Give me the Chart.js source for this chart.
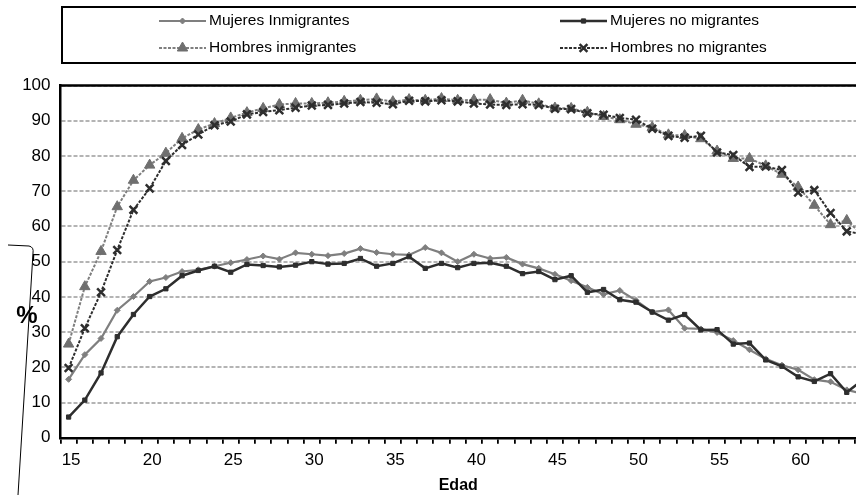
<!DOCTYPE html>
<html><head><meta charset="utf-8">
<script src="https://cdn.jsdelivr.net/npm/chart.js@4/dist/chart.umd.min.js"></script>
<style>html,body{margin:0;padding:0;background:#fff;overflow:hidden;width:856px;height:495px;}canvas{display:block;}</style>
</head><body>
<canvas id="c" width="864" height="495"></canvas>
<script>
const ages = [15,16,17,18,19,20,21,22,23,24,25,26,27,28,29,30,31,32,33,34,35,36,37,38,39,40,41,42,43,44,45,46,47,48,49,50,51,52,53,54,55,56,57,58,59,60,61,62,63,64];
const mujeresInmigrantes = [16.6,23.6,28.2,36.2,40.1,44.4,45.5,47.2,47.7,48.7,49.7,50.6,51.6,50.7,52.5,52.1,51.7,52.3,53.7,52.6,52.1,51.9,54.0,52.5,50.0,52.1,50.9,51.2,49.3,48.1,46.4,44.6,42.7,40.7,41.8,39.0,35.7,36.3,31.1,30.9,29.9,27.6,25.0,22.4,20.6,19.3,16.5,15.9,13.6,12.5];
const mujeresNoMigrantes = [5.9,10.7,18.4,28.7,35.0,40.1,42.3,46.0,47.5,48.7,47.0,49.2,48.9,48.5,49.0,50.0,49.3,49.5,50.9,48.7,49.5,51.4,48.1,49.5,48.3,49.5,49.7,48.7,46.6,47.2,44.9,46.0,41.3,42.1,39.2,38.5,35.7,33.4,35.0,30.6,30.7,26.6,26.9,22.1,20.3,17.3,16.0,18.2,12.9,16.5];
const hombresInmigrantes = [26.6,42.9,52.9,65.6,73.1,77.4,80.8,85.0,87.5,89.2,90.8,92.3,93.5,94.6,94.9,94.9,95.1,95.5,95.8,96.2,95.4,96.0,95.8,96.3,95.8,95.9,96.0,95.0,95.8,94.8,93.6,93.5,92.4,91.2,90.3,89.0,88.1,86.0,85.8,84.9,81.4,79.3,79.3,77.2,74.8,71.2,66.0,60.5,61.7,57.5];
const hombresNoMigrantes = [19.8,31.1,41.3,53.3,64.7,70.8,78.6,83.1,86.1,88.7,89.8,91.8,92.5,93.0,93.7,94.3,94.5,94.9,95.3,95.1,94.7,95.7,95.5,95.8,95.5,94.9,94.6,94.5,94.7,94.5,93.4,93.3,92.1,91.7,90.8,90.3,87.7,85.7,85.2,85.7,81.0,80.3,76.9,77.0,76.0,69.6,70.3,63.8,58.6,57.8];
const xTickLabels = ['15','20','25','30','35','40','45','50','55','60'];
const yTicks = [0,10,20,30,40,50,60,70,80,90,100];

const FONT = "'Liberation Sans', Arial, sans-serif";
const GRAY = '#7f7f7f', DARK = '#2e2e2e';
const pts = arr => arr.map((v,i) => ({x: ages[i], y: v}));

const legendPos = [
  {x1:159, x2:206, tx:209, y:21},
  {x1:560, x2:607, tx:610, y:21},
  {x1:159, x2:206, tx:209, y:48},
  {x1:560, x2:607, tx:610, y:48}
];

const decor = {
  id: 'decor',
  afterDraw(chart) {
    const ctx = chart.ctx, a = chart.chartArea;
    ctx.save();
    ctx.strokeStyle = '#000'; ctx.lineWidth = 2.5;
    ctx.beginPath(); ctx.moveTo(a.left - 1, a.top); ctx.lineTo(a.right + 2, a.top); ctx.stroke();
    ctx.lineWidth = 2;
    ctx.strokeRect(62, 7, 820, 56);
    chart.data.datasets.forEach((ds) => {
      const p = legendPos[ds.legendIndex];
      ctx.save();
      ctx.strokeStyle = ds.borderColor; ctx.lineWidth = ds.borderWidth;
      ctx.setLineDash(ds.borderDash || []);
      ctx.beginPath(); ctx.moveTo(p.x1, p.y); ctx.lineTo(p.x2, p.y); ctx.stroke();
      ctx.setLineDash([]);
      ctx.fillStyle = ds.pointBackgroundColor; ctx.strokeStyle = ds.pointBorderColor;
      ctx.lineWidth = ds.pointBorderWidth;
      Chart.helpers.drawPoint(ctx, {pointStyle: ds.pointStyle, radius: ds.pointRadius, rotation: 0, borderWidth: ds.pointBorderWidth}, (p.x1 + p.x2) / 2, p.y);
      ctx.restore();
      ctx.fillStyle = '#000'; ctx.font = '15.5px ' + FONT;
      ctx.textBaseline = 'middle'; ctx.textAlign = 'left';
      ctx.fillText(ds.label, p.tx, p.y);
    });
    ctx.fillStyle = '#000'; ctx.font = 'bold 24px ' + FONT;
    ctx.textAlign = 'center'; ctx.textBaseline = 'middle';
    ctx.fillText('%', 27, 316);
    ctx.strokeStyle = '#000'; ctx.lineWidth = 1;
    ctx.beginPath();
    ctx.moveTo(8, 245); ctx.lineTo(29, 246);
    ctx.quadraticCurveTo(34, 247, 33, 253);
    ctx.lineTo(18, 495);
    ctx.stroke();
    ctx.restore();
  }
};

new Chart(document.getElementById('c'), {
  type: 'line',
  data: {
    datasets: [
      {label:'Mujeres no migrantes', legendIndex:1, order:0, data: pts(mujeresNoMigrantes), borderColor:DARK, borderWidth:2.5,
       pointStyle:'rect', pointRadius:3, pointBackgroundColor:DARK, pointBorderColor:DARK, pointBorderWidth:1},
      {label:'Hombres no migrantes', legendIndex:3, order:1, data: pts(hombresNoMigrantes), borderColor:DARK, borderWidth:2, borderDash:[3,1.5],
       pointStyle:'crossRot', pointRadius:5.5, pointBackgroundColor:DARK, pointBorderColor:DARK, pointBorderWidth:2.5},
      {label:'Mujeres Inmigrantes', legendIndex:0, order:2, data: pts(mujeresInmigrantes), borderColor:GRAY, borderWidth:2.2,
       pointStyle:'rectRot', pointRadius:3, pointBackgroundColor:GRAY, pointBorderColor:GRAY, pointBorderWidth:1},
      {label:'Hombres inmigrantes', legendIndex:2, order:3, data: pts(hombresInmigrantes), borderColor:GRAY, borderWidth:2, borderDash:[3,1.5],
       pointStyle:'triangle', pointRadius:6, pointBackgroundColor:'#6f6f6f', pointBorderColor:'#6f6f6f', pointBorderWidth:1}
    ]
  },
  options: {
    responsive:false, animation:false,
    layout:{padding:{top:85.5, right:0, left:0, bottom:0}},
    plugins:{legend:{display:false}, tooltip:{enabled:false}},
    scales:{
      x:{type:'linear', min:14.5, max:63.57,
        afterBuildTicks(s){ const t=[]; for(let v=14.5; v<=63.5; v+=1) t.push({value:v}); s.ticks=t; },
        afterFit(s){ s.height = 57.2; },
        ticks:{autoSkip:false, maxRotation:0, minRotation:0, padding:6, labelOffset:10.6, color:'#000',
          font:{family:FONT, size:17},
          callback(v){ const l = String(Math.round(v+0.5)); return xTickLabels.includes(l) ? l : ''; }},
        grid:{display:true, drawOnChartArea:false, drawTicks:true, tickLength:6, color:'#000', lineWidth:1.8},
        border:{display:true, color:'#000', width:2.5},
        title:{display:true, text:'Edad', color:'#000', font:{family:FONT, size:16, weight:'bold'}, padding:{top:0, bottom:0}}
      },
      y:{min:0, max:100,
        afterBuildTicks(s){ s.ticks = yTicks.map(v => ({value:v})); },
        afterFit(s){ s.width = 60.5; },
        ticks:{padding:10, color:'#000', font:{family:FONT, size:17}},
        grid:{drawTicks:false, color:'#b4b4b4', lineWidth:2},
        border:{display:true, color:'#000', width:2.5, dash:[4,2]}
      }
    }
  },
  plugins:[decor]
});
</script>
</body></html>
